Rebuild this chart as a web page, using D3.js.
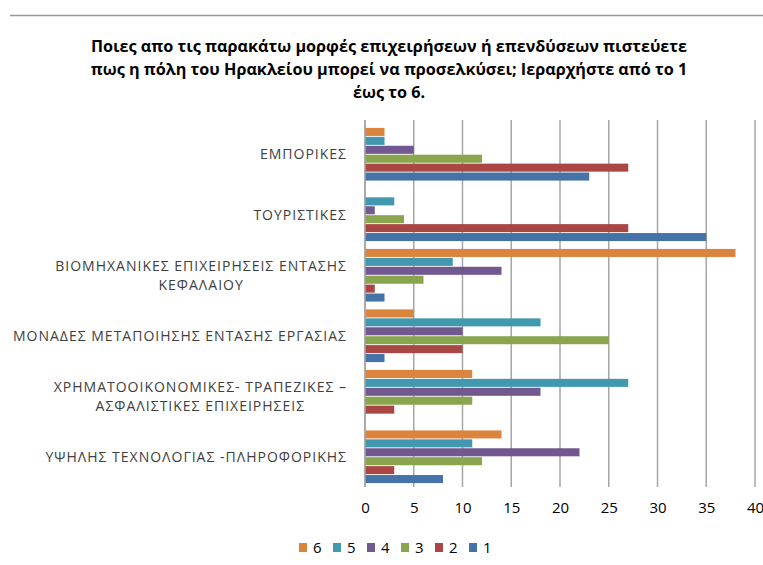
<html>
<head>
	<script src="https://d3js.org/d3.v7.min.js"></script>
	<style>
		body { margin:0; background:#fff; }
		text { font-family: "Open Sans", "Liberation Sans", sans-serif; }
	</style>
</head>
<body>
	<svg></svg>
</body>
<script type="text/javascript">
	// categories top to bottom
	var categories = [
		["ΕΜΠΟΡΙΚΕΣ"],
		["ΤΟΥΡΙΣΤΙΚΕΣ"],
		["ΒΙΟΜΗΧΑΝΙΚΕΣ ΕΠΙΧΕΙΡΗΣΕΙΣ ΕΝΤΑΣΗΣ", "ΚΕΦΑΛΑΙΟΥ"],
		["ΜΟΝΑΔΕΣ ΜΕΤΑΠΟΙΗΣΗΣ ΕΝΤΑΣΗΣ ΕΡΓΑΣΙΑΣ"],
		["ΧΡΗΜΑΤΟΟΙΚΟΝΟΜΙΚΕΣ- ΤΡΑΠΕΖΙΚΕΣ –", "ΑΣΦΑΛΙΣΤΙΚΕΣ ΕΠΙΧΕΙΡΗΣΕΙΣ"],
		["ΥΨΗΛΗΣ ΤΕΧΝΟΛΟΓΙΑΣ -ΠΛΗΡΟΦΟΡΙΚΗΣ"]
	];
	// series order as drawn inside each group (top to bottom) and in the legend
	var seriesNames = ["6", "5", "4", "3", "2", "1"];
	var seriesColors = ["#DB843D", "#4198AF", "#71588F", "#89A54E", "#AA4643", "#4572A7"];
	var s6 = [2, 0, 38, 5, 11, 14];
	var s5 = [2, 3, 9, 18, 27, 11];
	var s4 = [5, 1, 14, 10, 18, 22];
	var s3 = [12, 4, 6, 25, 11, 12];
	var s2 = [27, 27, 1, 10, 3, 3];
	var s1 = [23, 35, 2, 2, 0, 8];
	var seriesValues = [s6, s5, s4, s3, s2, s1];
	var xTicks = [0, 5, 10, 15, 20, 25, 30, 35, 40];
	var titleLines = [
		"Ποιες απο τις παρακάτω μορφές  επιχειρήσεων ή επενδύσεων πιστεύετε",
		"πως η πόλη του Ηρακλείου μπορεί να προσελκύσει; Ιεραρχήστε από το 1",
		"έως το 6."
	];

	var width = 763, height = 565;
	var margin = {"left":365, "right":8, "top":124, "bottom":78};

	var svg = d3.select("svg")
		.attr("width", width)
		.attr("height", height);

	// top frame line
	svg.append("line")
		.attr("x1", 10).attr("x2", 763)
		.attr("y1", 15.5).attr("y2", 15.5)
		.attr("stroke", "#999").attr("stroke-width", 1.5);

	// title
	var title = svg.append("text")
		.attr("text-anchor", "middle")
		.attr("font-size", 16.2)
		.attr("font-weight", "bold")
		.attr("fill", "#000");
	titleLines.forEach(function(t, i){
		title.append("tspan").attr("x", 389).attr("y", 52 + i*23).text(t);
	});

	var x = d3.scaleLinear().domain([0, 40]).range([365, 755]);
	var y = d3.scaleBand()
		.domain(d3.range(categories.length))
		.range([margin.top, height - margin.bottom])
		.paddingInner(0.1).paddingOuter(0.05);
	var ySub = d3.scaleBand()
		.domain(d3.range(seriesNames.length))
		.range([0, y.bandwidth()])
		.padding(0.1);

	// gridlines
	svg.append("g").selectAll("line")
		.data(xTicks)
		.enter().append("line")
		.attr("x1", function(d){ return x(d); })
		.attr("x2", function(d){ return x(d); })
		.attr("y1", margin.top - 4)
		.attr("y2", height - margin.bottom)
		.attr("stroke", "#a6a6a6")
		.attr("stroke-width", 1.5);

	// bars
	var groups = svg.append("g").selectAll("g")
		.data(categories)
		.enter().append("g")
		.attr("transform", function(d, i){ return "translate(0," + y(i) + ")"; });

	groups.selectAll("rect")
		.data(function(d, i){
			return seriesValues.map(function(s, j){ return {"s":j, "v":s[i]}; });
		})
		.enter().append("rect")
		.attr("x", x(0))
		.attr("y", function(d){ return ySub(d.s); })
		.attr("height", ySub.bandwidth())
		.attr("width", function(d){ return x(d.v) - x(0); })
		.attr("fill", function(d){ return seriesColors[d.s]; });

	// axis line at zero
	svg.append("line")
		.attr("x1", x(0)).attr("x2", x(0))
		.attr("y1", margin.top - 4).attr("y2", height - margin.bottom)
		.attr("stroke", "#a6a6a6").attr("stroke-width", 1.5);

	// x tick labels
	var xAxis = d3.axisBottom(x).tickValues(xTicks).tickSize(0).tickPadding(15);
	var gx = svg.append("g")
		.attr("transform", "translate(0," + (height - margin.bottom) + ")")
		.call(xAxis);
	gx.select(".domain").remove();
	gx.selectAll("text")
		.attr("font-family", "\"Open Sans\", sans-serif")
		.attr("font-size", 15)
		.attr("fill", "#000");

	// category labels
	var labelRight = 347;
	groups.each(function(d, i){
		var g = d3.select(this);
		var t = g.append("text")
			.attr("font-size", 14)
			.attr("letter-spacing", 1)
			.attr("fill", "#404040")
			.attr("text-anchor", "middle");
		var lh = 19;
		var y0 = y.bandwidth()/2 - (d.length - 1)*lh/2 + 5;
		var spans = d.map(function(line, k){
			return t.append("tspan").attr("y", y0 + k*lh).text(line);
		});
		var maxW = d3.max(spans, function(s){ return s.node().getComputedTextLength(); });
		spans.forEach(function(s){ s.attr("x", labelRight - maxW/2); });
	});

	// legend
	var legend = svg.append("g").selectAll("g")
		.data(seriesNames)
		.enter().append("g")
		.attr("transform", function(d, i){ return "translate(" + (299 + i*34) + ",543)"; });
	legend.append("rect")
		.attr("width", 8).attr("height", 9)
		.attr("fill", function(d, i){ return seriesColors[i]; });
	legend.append("text")
		.attr("x", 14).attr("y", 10)
		.attr("font-size", 15)
		.attr("fill", "#000")
		.text(function(d){ return d; });
</script>
</html>
